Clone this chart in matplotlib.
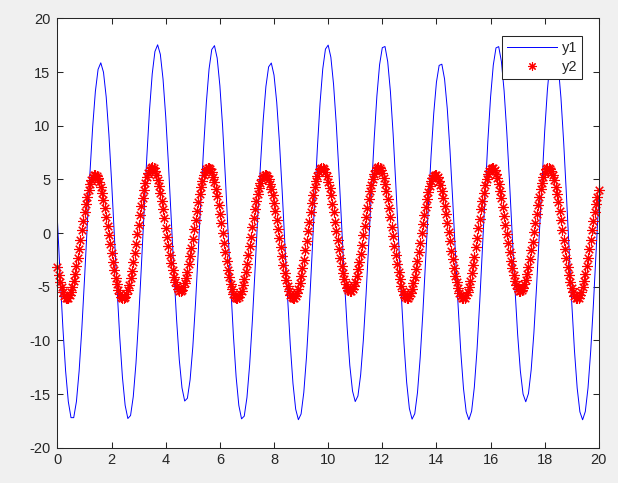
#!/usr/bin/env python3
"""
Two oscillating signals, y1 as a thin blue line and y2 as red asterisks,
drawn in the look of a default MATLAB figure.
"""

import numpy as np
import matplotlib
matplotlib.use("Agg")
import matplotlib.pyplot as plt

# sample spacing of the two series (x runs from 0 to 20)
X_START, X_END = 0.0, 20.0

# y1, sampled every 0.1
y1 = [
    1.09, -4.05, -8.83, -12.83, -15.70, -17.20, -17.20, -15.70, -12.85, -8.91, -4.23,
    0.76, 5.61, 9.89, 13.20, 15.26, 15.87, 14.99, 12.69, 9.18, 4.77,
    -0.14, -5.10, -9.67, -13.44, -16.05, -17.28, -17.00, -15.24, -12.13, -7.95, -3.07,
    2.09, 7.07, 11.45, 14.83, 16.92, 17.55, 16.66, 14.35, 10.82, 6.40,
    1.49, -3.48, -8.05, -11.81, -14.42, -15.65, -15.39, -13.66, -10.61, -6.53, -1.78,
    3.22, 8.01, 12.16, 15.29, 17.11, 17.47, 16.31, 13.73, 9.96, 5.32,
    0.25, -4.88, -9.56, -13.40, -16.06, -17.31, -17.06, -15.32, -12.26, -8.16, -3.40,
    1.61, 6.40, 10.54, 13.66, 15.49, 15.85, 14.72, 12.19, 8.49, 3.97,
    -0.99, -5.93, -10.40, -14.01, -16.41, -17.39, -16.86, -14.85, -11.53, -7.21, -2.24,
    2.94, 7.86, 12.10, 15.29, 17.15, 17.52, 16.39, 13.85, 10.14, 5.60,
    0.63, -4.30, -8.75, -12.34, -14.72, -15.70, -15.18, -13.22, -9.97, -5.76, -0.93,
    4.07, 8.77, 12.77, 15.70, 17.28, 17.39, 15.98, 13.19, 9.24, 4.50,
    -0.61, -5.68, -10.25, -13.91, -16.34, -17.34, -16.83, -14.86, -11.60, -7.37, -2.54,
    2.45, 7.15, 11.14, 14.06, 15.63, 15.74, 14.36, 11.62, 7.76, 3.14,
    -1.84, -6.73, -11.08, -14.49, -16.66, -17.39, -16.60, -14.36, -10.85, -6.40, -1.38,
    3.77, 8.60, 12.67, 15.65, 17.26, 17.38, 16.00, 13.26, 9.38, 4.76,
    -0.22, -5.10, -9.44, -12.84, -15.00, -15.72, -14.95, -12.75, -9.31, -4.96, -0.08,
    4.91, 9.52, 13.36, 16.08, 17.42, 17.27, 15.61, 12.62, 8.50, 3.67,
    -1.52, -6.54, -10.98, -14.45, -16.66, -17.40, -16.63, -14.43, -10.97, -6.61, -1.72,
    3.26,
]

# y2, sampled every 0.05
y2 = [
    -3.14, -3.87, -4.52, -5.07, -5.51, -5.83, -6.02, -6.08, -6.01, -5.81, -5.48, -5.03,
    -4.48, -3.83, -3.10, -2.31, -1.48, -0.61, 0.25, 1.11, 1.93, 2.70, 3.41, 4.02,
    4.54, 4.95, 5.24, 5.40, 5.44, 5.34, 5.11, 4.76, 4.30, 3.73, 3.07, 2.33,
    1.53, 0.69, -0.17, -1.04, -1.89, -2.71,
    -3.47, -4.16, -4.76, -5.26, -5.65, -5.91, -6.05, -6.06, -5.93, -5.68, -5.30, -4.80,
    -4.20, -3.50, -2.73, -1.89, -1.02, -0.12, 0.78, 1.66, 2.51, 3.31, 4.03, 4.66,
    5.20, 5.62, 5.91, 6.08, 6.12, 6.03, 5.80, 5.45, 4.99, 4.42, 3.76, 3.02,
    2.22, 1.37, 0.51, -0.36, -1.21, -2.03,
    -2.79, -3.48, -4.08, -4.58, -4.97, -5.24, -5.38, -5.39, -5.27, -5.03, -4.66, -4.17,
    -3.59, -2.91, -2.16, -1.35, -0.51, 0.36, 1.23, 2.07, 2.88, 3.63, 4.31, 4.89,
    5.38, 5.74, 5.99, 6.10, 6.09, 5.94, 5.66, 5.26, 4.74, 4.13, 3.42, 2.63,
    1.79, 0.91, 0.01, -0.89, -1.77, -2.61,
    -3.40, -4.10, -4.73, -5.24, -5.64, -5.92, -6.07, -6.08, -5.96, -5.72, -5.35, -4.87,
    -4.28, -3.60, -2.85, -2.04, -1.19, -0.32, 0.54, 1.39, 2.20, 2.95, 3.62, 4.21,
    4.69, 5.07, 5.31, 5.43, 5.42, 5.28, 5.01, 4.62, 4.11, 3.51, 2.82, 2.06,
    1.25, 0.39, -0.48, -1.34, -2.18, -2.98,
    -3.73, -4.39, -4.96, -5.43, -5.77, -6.00, -6.09, -6.06, -5.88, -5.59, -5.17, -4.63,
    -4.00, -3.27, -2.47, -1.62, -0.74, 0.17, 1.07, 1.94, 2.78, 3.55, 4.25, 4.85,
    5.35, 5.73, 5.99, 6.11, 6.10, 5.97, 5.70, 5.31, 4.80, 4.20, 3.51, 2.75,
    1.93, 1.08, 0.20, -0.66, -1.50, -2.30,
    -3.05, -3.71, -4.28, -4.75, -5.10, -5.32, -5.42, -5.39, -5.23, -4.94, -4.53, -4.01,
    -3.39, -2.68, -1.91, -1.08, -0.22, 0.65, 1.51, 2.35, 3.14, 3.88, 4.52, 5.08,
    5.53, 5.86, 6.06, 6.13, 6.07, 5.88, 5.56, 5.12, 4.56, 3.91, 3.17, 2.37,
    1.51, 0.61, -0.30, -1.19, -2.06, -2.89,
    -3.64, -4.31, -4.90, -5.38, -5.74, -5.97, -6.08, -6.05, -5.88, -5.60, -5.19, -4.67,
    -4.06, -3.35, -2.58, -1.75, -0.90, -0.03, 0.83, 1.66, 2.45, 3.18, 3.83, 4.38,
    4.83, 5.16, 5.36, 5.43, 5.37, 5.19, 4.88, 4.45, 3.91, 3.28, 2.57, 1.78,
    0.95, 0.09, -0.78, -1.64, -2.46, -3.24,
    -3.96, -4.59, -5.13, -5.55, -5.86, -6.04, -6.09, -6.01, -5.79, -5.45, -5.00, -4.43,
    -3.76, -3.01, -2.20, -1.33, -0.44, 0.47, 1.35, 2.21, 3.03, 3.78, 4.44, 5.01,
    5.47, 5.81, 6.02, 6.10, 6.05, 5.87, 5.55, 5.13, 4.59, 3.96, 3.25, 2.46,
    1.63, 0.77, -0.10, -0.95, -1.78, -2.56,
    -3.27, -3.90, -4.44, -4.87, -5.17, -5.35, -5.41, -5.33, -5.12, -4.79, -4.35, -3.79,
    -3.15, -2.41, -1.62, -0.79, 0.08, 0.95, 1.80, 2.62, 3.39, 4.10, 4.71, 5.23,
    5.64, 5.93, 6.08, 6.11, 6.00, 5.77, 5.40, 4.93, 4.34, 3.66, 2.90, 2.08,
    1.21, 0.31, -0.60, -1.48, -2.34, -3.14,
    -3.88, -4.53, -5.08, -5.52, -5.83, -6.02, -6.09, -6.01, -5.80, -5.48, -5.04, -4.48,
    -3.83, -3.10, -2.31, -1.47, -0.61, 0.26, 1.11, 1.93, 2.70, 3.41, 4.02,
]

series_labels = ["y1", "y2"]
x_ticks = list(range(0, 21, 2))
y_ticks = list(range(-20, 21, 5))

# MATLAB-ish look
plt.rcParams["font.family"] = ["Liberation Sans", "DejaVu Sans"]
plt.rcParams["axes.unicode_minus"] = False

AXIS_COLOR = "#262626"


def main():
    x1 = np.linspace(X_START, X_END, len(y1))
    x2 = np.linspace(X_START, X_END, len(y2))

    fig = plt.figure(figsize=(6.18, 4.83), dpi=100, facecolor="#f0f0f0")
    ax = fig.add_axes([0.093, 0.0731, 0.876, 0.8886])
    ax.set_facecolor("white")

    ax.plot(x1, y1, color=(0, 0, 1), linewidth=0.7, label=series_labels[0])
    ax.plot(x2, y2, linestyle="none", marker=(8, 2, 0), markersize=7.5,
            markeredgewidth=0.8, color=(1, 0, 0), clip_on=False,
            label=series_labels[1])

    ax.set_xlim(X_START, X_END)
    ax.set_ylim(-20, 20)
    ax.set_xticks(x_ticks)
    ax.set_yticks(y_ticks)

    for spine in ax.spines.values():
        spine.set_color(AXIS_COLOR)
        spine.set_linewidth(0.75)
    ax.tick_params(direction="in", top=True, right=True, length=4,
                   width=0.75, color=AXIS_COLOR, labelcolor=AXIS_COLOR,
                   labelsize=10.5)
    ax.tick_params(axis="x", pad=4)
    ax.tick_params(axis="y", pad=5)

    leg = ax.legend(loc="upper right", bbox_to_anchor=(0.969, 0.959),
                    borderaxespad=0, fancybox=False, framealpha=1,
                    edgecolor=AXIS_COLOR, fontsize=10.5, numpoints=1,
                    handlelength=3.4, handletextpad=0.3, labelspacing=0.35,
                    borderpad=0.35, markerscale=0.8)
    leg.get_frame().set_linewidth(0.75)
    for text in leg.get_texts():
        text.set_color(AXIS_COLOR)

    fig.savefig("out.png", dpi=100, facecolor=fig.get_facecolor())
    plt.close(fig)


if __name__ == "__main__":
    main()
